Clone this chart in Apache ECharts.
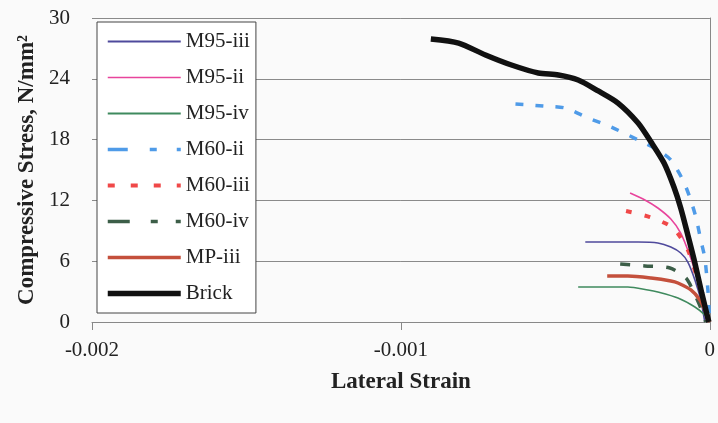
<!DOCTYPE html>
<html>
<head>
<meta charset="utf-8">
<script src="https://cdn.jsdelivr.net/npm/echarts@6/dist/echarts.min.js"></script>
<style>
html,body{margin:0;padding:0;background:#fafafa;}
#c{width:718px;height:423px;}
</style>
</head>
<body>
<div id="c"></div>
<script>
// ---- data ----
var seriesNames = ['M95-iii', 'M95-ii', 'M95-iv', 'M60-ii', 'M60-iii', 'M60-iv', 'MP-iii', 'Brick'];

var m95iiiX = [-0.000403, -0.000232, -0.000168, -0.000126, -0.000094, -0.000071, -0.000048, -0.000029, -0.000016];
var m95iiiY = [7.89, 7.89, 7.80, 7.40, 6.81, 5.92, 4.15, 2.17, 0];

var m95iiX = [-0.000258, -0.00021, -0.000168, -0.000126, -0.000094, -0.000065, -0.000039, -0.000019, -0.00001];
var m95iiY = [12.73, 12.04, 11.25, 10.16, 8.78, 6.61, 4.15, 1.68, 0];

var m95ivX = [-0.000426, -0.000265, -0.0002, -0.000168, -0.000103, -0.000048, -0.000016, 0];
var m95ivY = [3.45, 3.45, 3.16, 2.96, 2.37, 1.48, 0.69, 0];

var m60iiX = [-0.000629, -0.000539, -0.000468, -0.000394, -0.000319, -0.000232, -0.000168, -0.000126, -0.000087, -0.000065, -0.000045, -0.000029, -0.000016, -0.000006, 0];
var m60iiY = [21.51, 21.32, 21.12, 20.13, 19.24, 17.96, 16.97, 15.99, 14.01, 12.34, 10.36, 8.09, 6.32, 3.16, 0];

var m60iiiX = [-0.000271, -0.000194, -0.000119, -0.000071, -0.000039, -0.000016, -0.000003];
var m60iiiY = [10.95, 10.36, 9.28, 7.11, 4.15, 1.68, 0];

var m60ivX = [-0.00029, -0.00021, -0.000129, -0.000077, -0.000052, -0.000029, -0.000013];
var m60ivY = [5.72, 5.53, 5.33, 4.34, 2.96, 1.38, 0];

var mpiiiX = [-0.000332, -0.000265, -0.00019, -0.000126, -0.000103, -0.000061, -0.000032, -0.000013, 0];
var mpiiiY = [4.54, 4.54, 4.34, 4.05, 3.85, 3.16, 2.17, 0.99, 0];

var brickX = [-0.000903, -0.000813, -0.000726, -0.000642, -0.000555, -0.00049, -0.000426, -0.000361, -0.000297, -0.000232, -0.00019, -0.000148, -0.000116, -0.000094, -0.000071, -0.000048, -0.000026, -0.000003];
var brickY = [27.93, 27.53, 26.35, 25.36, 24.57, 24.38, 23.88, 22.80, 21.61, 19.64, 17.76, 15.69, 13.32, 11.25, 8.59, 5.82, 2.86, 0];

var xTicks = [-0.002, -0.001, 0];
var yTicks = [0, 6, 12, 18, 24, 30];

function zip(xs, ys) { return xs.map(function (x, i) { return [x, ys[i]]; }); }

var seriesData = [
  zip(m95iiiX, m95iiiY), zip(m95iiX, m95iiY), zip(m95ivX, m95ivY),
  zip(m60iiX, m60iiY), zip(m60iiiX, m60iiiY), zip(m60ivX, m60ivY),
  zip(mpiiiX, mpiiiY), zip(brickX, brickY)
];

var styles = [
  {color: '#4f4a9c', width: 1.6, type: 'solid', legendType: 'solid', legendWidth: 2},
  {color: '#e8449c', width: 1.6, type: 'solid', legendType: 'solid', legendWidth: 1.5},
  {color: '#3f8a5e', width: 1.6, type: 'solid', legendType: 'solid', legendWidth: 2},
  {color: '#4f9be8', width: 3.5, type: [8, 12], legendType: [20, 22, 7, 20], legendWidth: 3.5},
  {color: '#f04848', width: 4, type: [6, 13], legendType: [7, 16], legendWidth: 4},
  {color: '#3c5e48', width: 3.5, type: [10, 13], legendType: [22, 21, 7, 18], legendWidth: 3.5},
  {color: '#c4503c', width: 3.5, type: 'solid', legendType: 'solid', legendWidth: 3.5},
  {color: '#111111', width: 5.5, type: 'solid', legendType: 'solid', legendWidth: 5.5}
];

var FONT = 'Liberation Serif';

var chart = echarts.init(document.getElementById('c'), null, {renderer: 'canvas'});
chart.setOption({
  backgroundColor: '#fafafa',
  animation: false,
  grid: {left: 92, right: 6, top: 18, bottom: 101, containLabel: false},
  legend: {
    orient: 'vertical',
    left: 97, top: 22,
    padding: [9, 6, 9, 8],
    itemWidth: 73, itemHeight: 14, itemGap: 15,
    backgroundColor: '#ffffff',
    borderColor: '#444', borderWidth: 1,
    itemStyle: {opacity: 0},
    textStyle: {fontFamily: FONT, fontSize: 21, color: '#222'},
    data: seriesNames.map(function (n, i) {
      return {
        name: n,
        itemStyle: {opacity: 0},
        lineStyle: {color: styles[i].color, width: styles[i].legendWidth, type: styles[i].legendType, opacity: 1}
      };
    })
  },
  xAxis: {
    type: 'value', min: -0.002, max: 0, interval: 0.001,
    name: 'Lateral Strain', nameLocation: 'middle', nameGap: 49,
    nameTextStyle: {fontFamily: FONT, fontSize: 23, fontWeight: 'bold', color: '#222'},
    axisLine: {show: true, lineStyle: {color: '#888', width: 1}},
    axisTick: {show: true, length: 8, lineStyle: {color: '#888'}},
    axisLabel: {
      fontFamily: FONT, fontSize: 21, color: '#222', margin: 18,
      formatter: function (v) {
        for (var i = 0; i < xTicks.length; i++) {
          if (Math.abs(v - xTicks[i]) < 1e-9) return xTicks[i] === 0 ? '0' : xTicks[i].toFixed(3);
        }
        return '';
      }
    },
    splitLine: {show: false}
  },
  yAxis: {
    type: 'value', min: 0, max: 30, interval: 6,
    name: 'Compressive Stress, N/mm²', nameLocation: 'middle', nameGap: 53,
    nameTextStyle: {fontFamily: FONT, fontSize: 23, fontWeight: 'bold', color: '#222'},
    axisLine: {show: true, lineStyle: {color: '#888', width: 1}},
    axisTick: {show: true, length: 8, lineStyle: {color: '#888'}},
    axisLabel: {
      fontFamily: FONT, fontSize: 21, color: '#222', margin: 22,
      formatter: function (v) { return yTicks.indexOf(v) >= 0 ? String(v) : ''; }
    },
    splitLine: {show: true, lineStyle: {color: '#8a8a8a', width: 1}}
  },
  series: seriesNames.map(function (n, i) {
    return {
      name: n, type: 'line', data: seriesData[i],
      symbol: 'none', smooth: 0.25,
      lineStyle: {color: styles[i].color, width: styles[i].width, type: styles[i].type},
      itemStyle: {color: styles[i].color},
      z: 2 + i
    };
  })
});
</script>
</body>
</html>
